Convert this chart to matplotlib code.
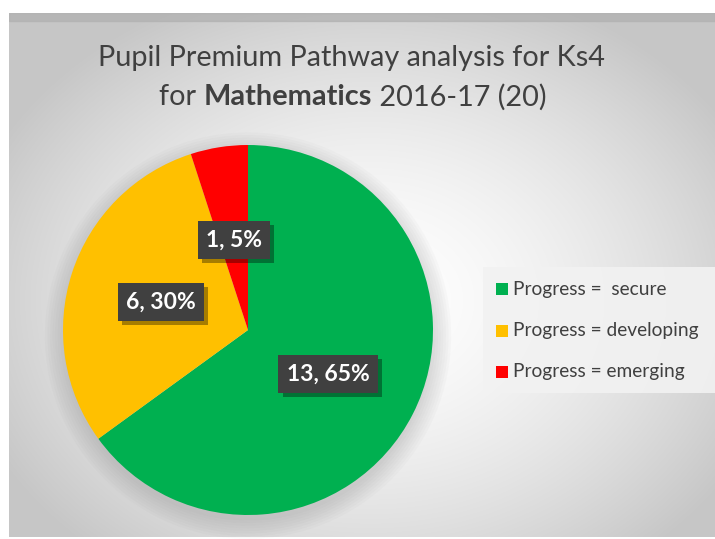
import numpy as np
import matplotlib.pyplot as plt
import matplotlib.patheffects as pe
from matplotlib.patches import Rectangle

# ===== data =====
categories = ['Progress =  secure', 'Progress = developing', 'Progress = emerging']
counts = [13, 6, 1]
percents = [65, 30, 5]
colors = ['#00B050', '#FFC000', '#FF0000']

W, H = 715, 539
plt.rcParams['font.family'] = ['Lato', 'DejaVu Sans']
plt.rcParams['hatch.color'] = '#4c4c4c'
plt.rcParams['hatch.linewidth'] = 1.2

fig = plt.figure(figsize=(W / 100, H / 100), dpi=100)
fig.patch.set_facecolor('white')


def fx(x):
    return x / W


def fy(y):
    return 1 - y / H


# ---- background panel with radial gradient ----
px0, py0, px1, py1 = 9, 13, 715, 537
bg = fig.add_axes([fx(px0), fy(py1), fx(px1 - px0), (py1 - py0) / H])
bg.set_axis_off()
gx, gy = np.meshgrid(np.arange(px0, px1), np.arange(py0, py1))
r = np.sqrt(((gx - 370) / 420) ** 2 + ((gy - 300) / 330) ** 2)
r = np.clip(r, 0, 1)
shade = 1 - 0.22 * r ** 1.6
img = np.dstack([shade, shade, shade])
bg.imshow(img, aspect='auto', extent=(0, 1, 0, 1), interpolation='bilinear')
bg.set_xlim(0, 1)
bg.set_ylim(0, 1)
# darker top edge
bg.add_patch(Rectangle((0, 0.985), 1, 0.015, color='#b0b0b0', alpha=0.7,
                       transform=bg.transAxes))

# ---- pie ----
cx, cy, rad = 248, 330, 185
ax = fig.add_axes([fx(cx - rad), fy(cy + rad), 2 * rad / W, 2 * rad / H])
ax.set_aspect('equal')
ax.set_axis_off()

# soft shadow under pie
for k in range(8):
    s = plt.Circle((0.0, -0.03), 1.0 + 0.014 * k, color='#707070',
                   alpha=0.03, zorder=0, lw=0, clip_on=False)
    ax.add_patch(s)

wedges, _ = ax.pie(counts, colors=colors, startangle=90, counterclock=False,
                   radius=1.0, wedgeprops=dict(linewidth=0))
ax.set_xlim(-1.0, 1.0)
ax.set_ylim(-1.0, 1.0)

# ---- data labels ----
label_pos = [(328, 374), (161, 302), (234, 240)]
for (x, y), c, p in zip(label_pos, counts, percents):
    t = fig.text(fx(x), fy(y), f'{c}, {p}%', ha='center', va='center',
                 fontsize=16.5, fontweight='bold', color='white',
                 bbox=dict(boxstyle='square,pad=0.36', facecolor='#404040',
                           edgecolor='none', hatch='.'))
    t.get_bbox_patch().set_path_effects([
        pe.SimplePatchShadow(offset=(3, -3), shadow_rgbFace='#000000', alpha=0.35),
        pe.Normal()])

# ---- title ----
fs_title = 20.8
fig.text(fx(352), fy(58), 'Pupil Premium Pathway analysis for Ks4',
         ha='center', va='center', fontsize=fs_title, color='#404040')

renderer = fig.canvas.get_renderer()
parts = [('for ', 'normal'), ('Mathematics', 'bold'), (' 2016-17 (20)', 'normal')]
widths = []
for s, w in parts:
    tt = fig.text(0, 0, s, fontsize=fs_title, fontweight=w)
    widths.append(tt.get_window_extent(renderer).width)
    tt.remove()
x0 = 353 - sum(widths) / 2
for (s, w), wd in zip(parts, widths):
    fig.text(fx(x0), fy(97), s, ha='left', va='center', fontsize=fs_title,
             fontweight=w, color='#404040')
    x0 += wd

# ---- legend ----
fig.patches.append(Rectangle((fx(483), fy(393)), fx(715 - 483), (393 - 267) / H,
                             transform=fig.transFigure, facecolor='#f2f2f2',
                             edgecolor='none', alpha=0.9))
for i, (lab, col) in enumerate(zip(categories, colors)):
    yy = 289 + i * 41.5
    fig.patches.append(Rectangle((fx(496), fy(yy + 6)), fx(12), 12 / H,
                                 transform=fig.transFigure, facecolor=col,
                                 edgecolor='none'))
    fig.text(fx(513), fy(yy), lab, ha='left', va='center', fontsize=13.8,
             color='#404040')

fig.savefig('out.png', dpi=100)
